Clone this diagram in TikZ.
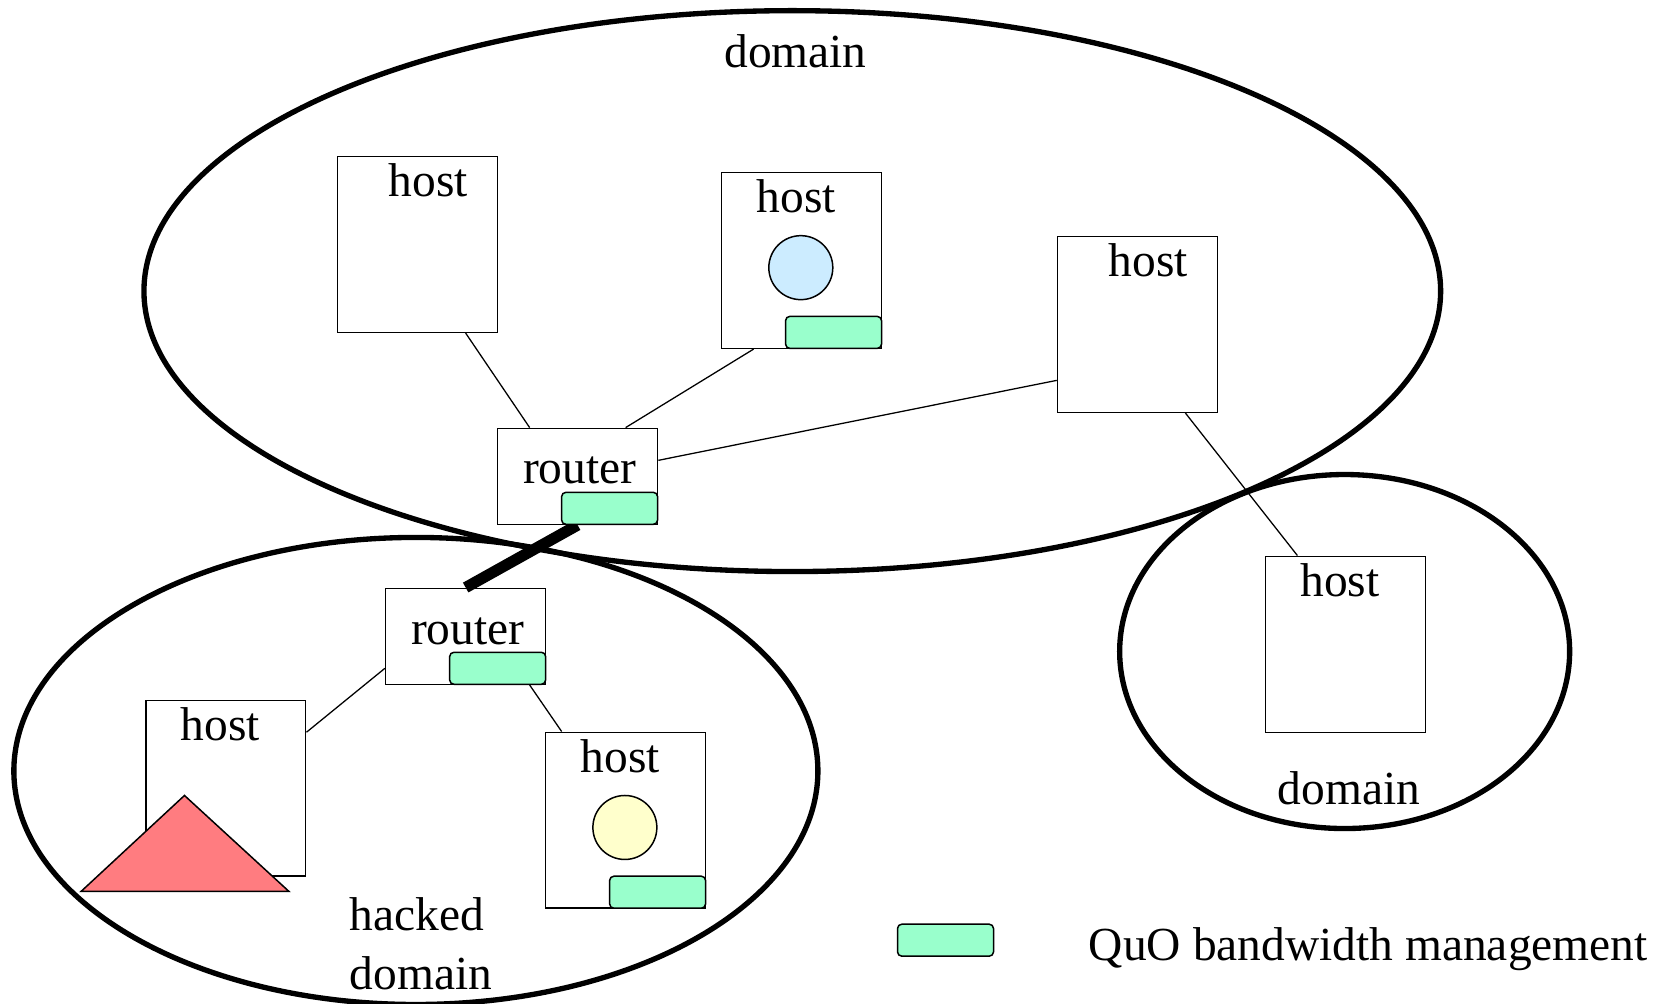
\documentclass[tikz,border=0pt]{standalone}
\usepackage{fontspec}
\setmainfont{Liberation Serif}
\usetikzlibrary{calc}

\definecolor{qosgreen}{RGB}{153,255,204}
\definecolor{objblue}{RGB}{204,236,255}
\definecolor{objyellow}{RGB}{255,255,204}
\definecolor{hackred}{RGB}{255,124,128}

\tikzset{
  domainring/.style={draw, line width=5pt},
  hostbox/.style={draw, fill=white, line width=1.4pt, minimum width=150pt,
    minimum height=165pt, inner sep=0pt, anchor=north west},
  routerbox/.style={hostbox, minimum height=90pt},
  qos/.style={draw, fill=qosgreen, line width=1.4pt, rounded corners=4pt,
    minimum width=90pt, minimum height=30pt, inner sep=0pt, anchor=south east},
  objcircle/.style={circle, draw, line width=1.4pt, minimum size=60pt, inner sep=0pt},
  link/.style={line width=1.2pt},
  uplink/.style={line width=10.5pt},
  lbl/.style={font=\fontsize{44.5}{52}\selectfont, inner sep=0pt, anchor=base},
}

\begin{document}
\begin{tikzpicture}[x=1pt, y=-1pt]
\useasboundingbox (0,0) rectangle (1568,941);

% domain outlines
\draw[domainring] (743,273) ellipse [x radius=608pt, y radius=263pt];
\draw[domainring] (390,723) ellipse [x radius=377pt, y radius=219pt];
\draw[domainring] (1261,611) ellipse [x radius=211pt, y radius=166pt];

% hosts and routers
\node[hostbox]   (h1) at (316,146) {};
\node[hostbox]   (h2) at (676,161) {};
\node[hostbox]   (h3) at (991,221) {};
\node[routerbox] (r1) at (466,401) {};
\node[routerbox] (r2) at (361,551) {};
\node[hostbox]   (h4) at (136,656) {};
\node[hostbox]   (h5) at (511,686) {};
\node[hostbox]   (h6) at (1186,521) {};

% links
\draw[link] ([xshift=45pt]h1.south) -- ([xshift=-45pt]r1.north);
\draw[link] ([xshift=-45pt]h2.south) -- ([xshift=45pt]r1.north);
\draw[link] ([yshift=-52.5pt]h3.west) -- ([yshift=15pt]r1.east);
\draw[link] ([xshift=45pt]h3.south) -- ([xshift=-45pt]h6.north);
\draw[link] ([yshift=-30pt]r2.west) -- ([yshift=52.5pt]h4.east);
\draw[link] ([xshift=60pt]r2.south) -- ([xshift=-60pt]h5.north);
\draw[uplink] (r1.south) -- (r2.north);

% labels in boxes
\node[lbl] (h1t) at ([xshift=10pt, yshift=-38pt]h1.north) {host};
\node[lbl] (h2t) at ([xshift=-5pt, yshift=-38pt]h2.north) {host};
\node[lbl] (h3t) at ([xshift=10pt, yshift=-38pt]h3.north) {host};
\node[lbl] (r1t) at ([xshift=2pt, yshift=-52pt]r1.north) {router};
\node[lbl] (r2t) at ([xshift=2pt, yshift=-53pt]r2.north) {router};
\node[lbl] (h4t) at ([xshift=-5pt, yshift=-38pt]h4.north) {host};
\node[lbl] (h5t) at ([xshift=-5pt, yshift=-38pt]h5.north) {host};
\node[lbl] (h6t) at ([xshift=-5pt, yshift=-38pt]h6.north) {host};

% objects inside hosts
\node[objcircle, fill=objblue]   (c2) at (751,251) {};
\node[objcircle, fill=objyellow] (c5) at (586,776) {};
\draw[fill=hackred, line width=1.4pt] (173,746) -- (271,836) -- (76,836) -- cycle;

% bandwidth management modules
\node[qos] (q2) at (h2.south east) {};
\node[qos] (q1) at (r1.south east) {};
\node[qos] (q3) at (r2.south east) {};
\node[qos] (q5) at (h5.south east) {};

% domain captions
\node[lbl] (d1) at (746,63) {domain};
\node[lbl] (d2) at (1265,754) {domain};
\node[lbl, anchor=base west] (d3a) at (328,873) {hacked};
\node[lbl, anchor=base west] (d3b) at (328,928) {domain};

% legend
\node[qos, anchor=north west] (lq) at (841,866) {};
\node[lbl, anchor=base west] (lt) at (1021,901) {QuO bandwidth management};
\end{tikzpicture}
\end{document}
